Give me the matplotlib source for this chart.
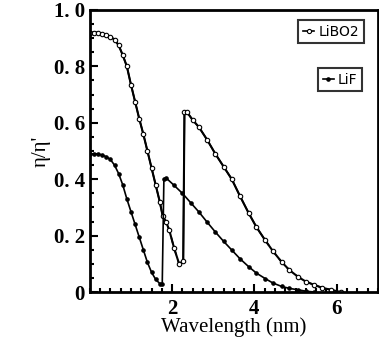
import matplotlib.pyplot as plt
from matplotlib.ticker import MultipleLocator, FixedLocator

# LiBO2 (open circles)
libo2_x = [0.0, 0.1, 0.2, 0.3, 0.4, 0.5, 0.6, 0.7, 0.8, 0.9, 1.0, 1.1, 1.2,
           1.3, 1.4, 1.5, 1.6, 1.7, 1.77, 1.85, 1.93, 2.05, 2.17, 2.27, 2.3,
           2.35, 2.5, 2.65, 2.85, 3.05, 3.25, 3.45, 3.65, 3.86, 4.05, 4.26,
           4.45, 4.66, 4.85, 5.06, 5.25, 5.46, 5.65, 5.86, 6.1]
libo2_y = [0.92, 0.92, 0.92, 0.915, 0.91, 0.905, 0.895, 0.875, 0.84, 0.80,
           0.735, 0.675, 0.615, 0.56, 0.50, 0.44, 0.38, 0.32, 0.27, 0.25,
           0.22, 0.155, 0.10, 0.11, 0.64, 0.64, 0.61, 0.585, 0.54, 0.49,
           0.445, 0.40, 0.34, 0.28, 0.23, 0.184, 0.145, 0.107, 0.078, 0.054,
           0.037, 0.025, 0.015, 0.008, 0.0]
# where the LiBO2 line turns dashed (start, end index pairs)
libo2_dashed = [(18, 23), (35, 45)]

# LiF (filled dots)
lif_x = [0.0, 0.1, 0.2, 0.3, 0.4, 0.5, 0.6, 0.7, 0.8, 0.9, 1.0, 1.1, 1.2,
         1.3, 1.4, 1.5, 1.6, 1.7, 1.76, 1.8, 1.85, 2.05, 2.25, 2.45, 2.65,
         2.85, 3.05, 3.25, 3.45, 3.65, 3.86, 4.05, 4.26, 4.45, 4.66, 4.85,
         5.06, 5.25, 5.46]
lif_y = [0.49, 0.49, 0.49, 0.485, 0.48, 0.47, 0.45, 0.42, 0.38, 0.33, 0.285,
         0.24, 0.195, 0.15, 0.105, 0.07, 0.045, 0.03, 0.03, 0.40, 0.405,
         0.378, 0.35, 0.317, 0.284, 0.248, 0.213, 0.18, 0.149, 0.118, 0.09,
         0.067, 0.048, 0.032, 0.02, 0.013, 0.008, 0.003, 0.0]

yticks = [0, 0.2, 0.4, 0.6, 0.8, 1.0]
ytick_labels = ["0", "0. 2", "0. 4", "0. 6", "0. 8", "1. 0"]
xticks = [2, 4, 6]

fig = plt.figure(figsize=(3.79, 3.44), dpi=100)
ax = fig.add_axes([0.237, 0.151, 0.76, 0.82])

serif = {"family": "Liberation Serif", "weight": "bold"}
serif_n = {"family": "Liberation Serif", "weight": "normal"}

# LiBO2 line: solid parts and dashed parts, then the markers on top
solid_parts = [(0, 19), (23, 36)]
for a, b in solid_parts:
    ax.plot(libo2_x[a:b], libo2_y[a:b], "-", color="black", lw=1.2)
for a, b in libo2_dashed:
    ax.plot(libo2_x[a:b], libo2_y[a:b], "--", color="black", lw=1.2,
            dashes=(4, 3))
l1, = ax.plot(libo2_x, libo2_y, "none", marker="o", ms=3.2, mfc="white",
              mec="black", mew=0.8, color="black")
l2, = ax.plot(lif_x, lif_y, "-", color="black", lw=1.2, marker="o",
              ms=2.3, mfc="black", mec="black")

ax.set_xlim(0, 7)
ax.set_ylim(0, 1.0)
ax.xaxis.set_major_locator(FixedLocator(xticks))
ax.xaxis.set_minor_locator(MultipleLocator(0.25))
ax.set_yticks(yticks)
ax.set_yticklabels(ytick_labels, fontdict=serif, fontsize=15)
ax.yaxis.set_minor_locator(MultipleLocator(0.05))
for lab in ax.get_xticklabels():
    lab.set_fontfamily("Liberation Serif")
    lab.set_fontweight("bold")
    lab.set_fontsize(15)

ax.tick_params(which="both", direction="in", width=1.5)
ax.tick_params(which="major", length=6)
ax.tick_params(which="minor", length=3)
ax.tick_params(axis="x", pad=5)
for sp in ax.spines.values():
    sp.set_linewidth(2)

ax.set_xlabel("Wavelength (nm)", fontdict=serif_n, fontsize=15, labelpad=-1)
ax.set_ylabel("η/η'", fontdict=serif_n, fontsize=15, labelpad=2)

handle1 = plt.Line2D([], [], color="black", lw=1.2, marker="o", ms=3,
                     mfc="white", mec="black", mew=0.8)
leg1 = ax.legend([handle1], ["LiBO2"], loc="upper right",
                 bbox_to_anchor=(0.975, 0.99),
                 frameon=True, fancybox=False, edgecolor="black",
                 handlelength=0.8, handletextpad=0.3, borderpad=0.35,
                 prop={"family": "DejaVu Sans", "size": 10})
leg1.get_frame().set_linewidth(1.5)
ax.add_artist(leg1)
leg2 = ax.legend([l2], ["LiF"], loc="upper right", bbox_to_anchor=(0.97, 0.82),
                 frameon=True, fancybox=False, edgecolor="black",
                 handlelength=0.8, handletextpad=0.3, borderpad=0.35,
                 prop={"family": "DejaVu Sans", "size": 10})
leg2.get_frame().set_linewidth(1.5)

fig.savefig("out.png", dpi=100)
